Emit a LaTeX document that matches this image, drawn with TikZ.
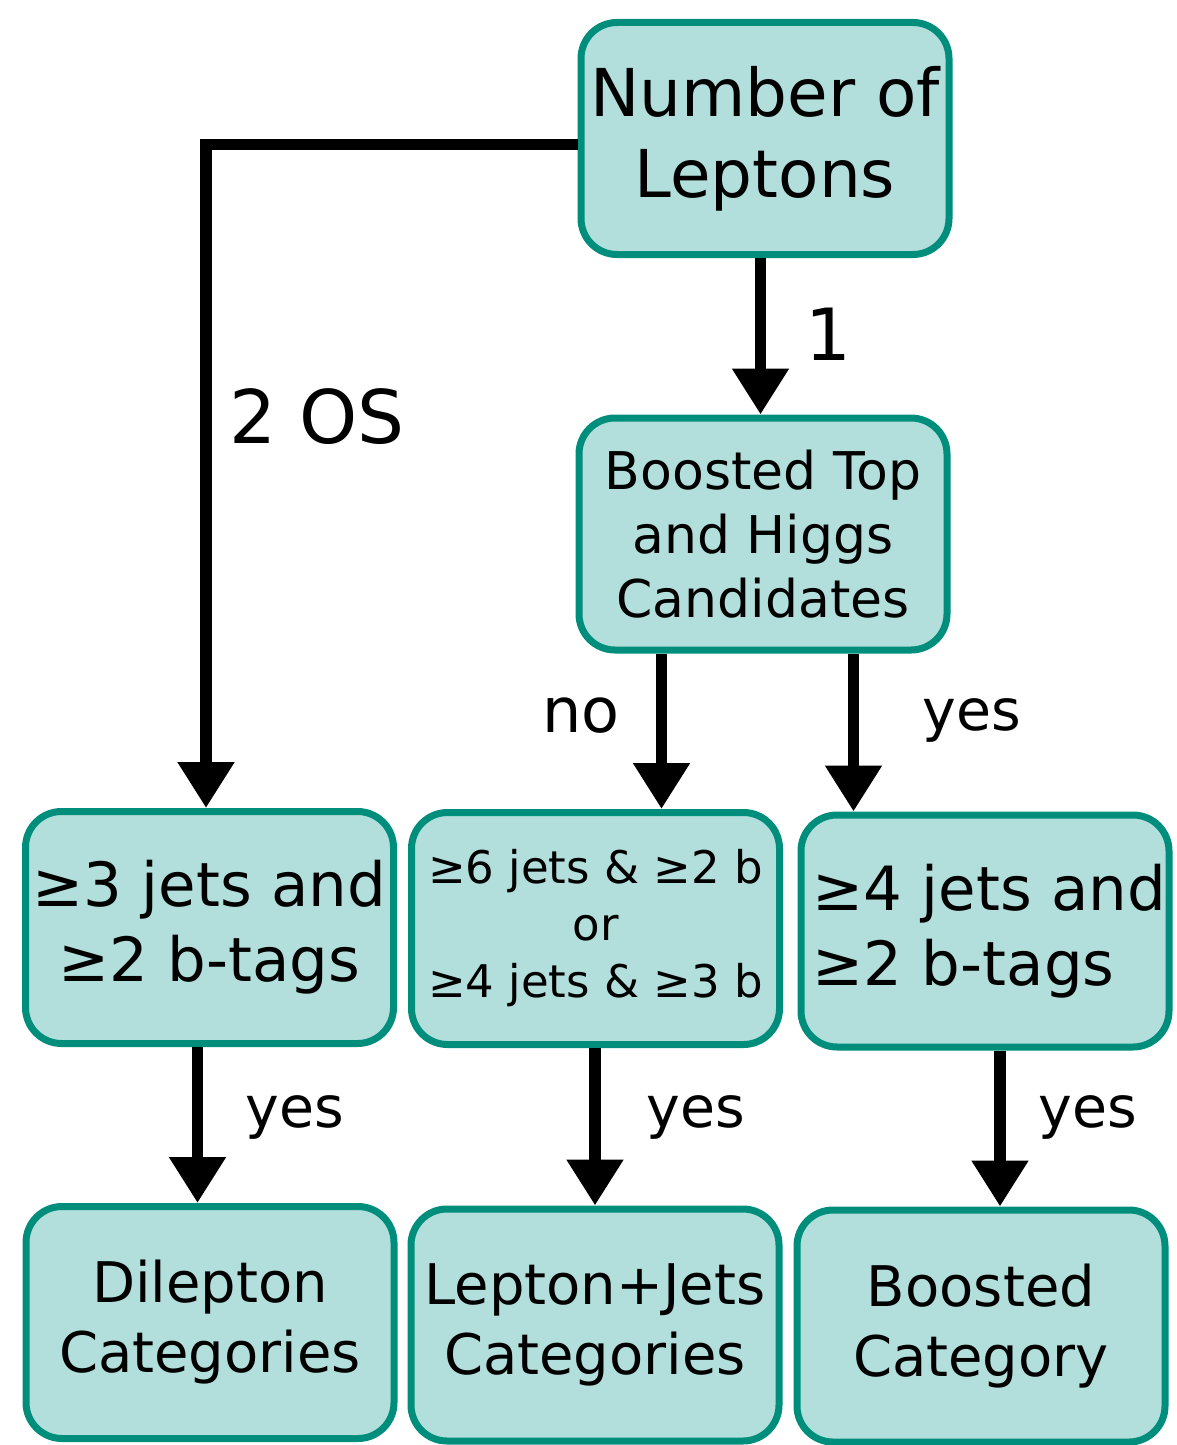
\documentclass[tikz,border=0pt]{standalone}
\usepackage{fontspec}
\setmainfont{DejaVu Sans}
\usetikzlibrary{arrows.meta,calc}
\definecolor{boxfill}{RGB}{178,223,219}
\definecolor{boxdraw}{RGB}{0,142,124}
\begin{document}
\begin{tikzpicture}[x=1pt,y=1pt,
  box/.style={draw=boxdraw, fill=boxfill, line width=7pt, rounded corners=36pt,
    minimum width=368pt, minimum height=232pt, inner sep=0pt, align=center},
  arr/.style={line width=11.5pt, -{Triangle[width=54pt,length=46pt]}},
  lbl/.style={anchor=base, inner sep=0pt},
  big/.style={font=\fontsize{61}{75}\selectfont},
  bot/.style={font=\fontsize{56}{70}\selectfont},
  yeslbl/.style={lbl, font=\fontsize{57}{68}\selectfont}]
\useasboundingbox (0,0) rectangle (1176,-1445);
% boxes
\node[box, font=\fontsize{66}{81}\selectfont] (nlep) at (765,-138.5) {Number of\\Leptons};
\node[box, font=\fontsize{52}{64}\selectfont] (boost) at (763,-534) {Boosted Top\\and Higgs\\Candidates};
\node[box, big] (dilsel) at (209.5,-927.5) {≥3 jets and\\≥2 b-tags};
\node[box, font=\fontsize{45}{57}\selectfont] (ljsel) at (595.5,-928.5) {≥6 jets \& ≥2 b\\or\\≥4 jets \& ≥3 b};
\node[box, big, align=left] (bsel) at (985,-931) {\hspace*{9pt}≥4 jets and\\\hspace*{9pt}≥2 b-tags};
\node[box, bot] (dil) at (210,-1322.5) {Dilepton\\Categories};
\node[box, bot] (lj) at (595,-1325) {Lepton+Jets\\Categories};
\node[box, bot] (bcat) at (981,-1326) {Boosted\\Category};
% connector helper coordinates
\coordinate (c2) at (206,-144.5);
\coordinate (c1) at (760.5,0);
\coordinate (cno) at (661.5,0);
\coordinate (cyes) at (853.5,0);
\coordinate (cl) at (197.5,0);
\coordinate (cm) at (595,0);
\coordinate (cr) at (1000,0);
% connectors
\draw[arr] (nlep.west |- c2) -- (c2) -- (dilsel.north -| c2);
\draw[arr] (nlep.south -| c1) -- (boost.north -| c1);
\draw[arr] (boost.south -| cno) -- (ljsel.north -| cno);
\draw[arr] (boost.south -| cyes) -- (bsel.north -| cyes);
\draw[arr] (dilsel.south -| cl) -- (dil.north -| cl);
\draw[arr] (ljsel.south -| cm) -- (lj.north -| cm);
\draw[arr] (bsel.south -| cr) -- (bcat.north -| cr);
% labels
\node[lbl, font=\fontsize{74}{88}\selectfont] (l2os) at (317,-443) {2 OS};
\node[lbl, font=\fontsize{72}{86}\selectfont] (l1) at (828,-360) {1};
\node[lbl, font=\fontsize{62}{74}\selectfont] (lno) at (581,-732) {no};
\node[yeslbl] (ly0) at (972,-730) {yes};
\node[yeslbl] (ly1) at (295,-1127) {yes};
\node[yeslbl] (ly2) at (696,-1127) {yes};
\node[yeslbl] (ly3) at (1088,-1127) {yes};
\end{tikzpicture}
\end{document}
